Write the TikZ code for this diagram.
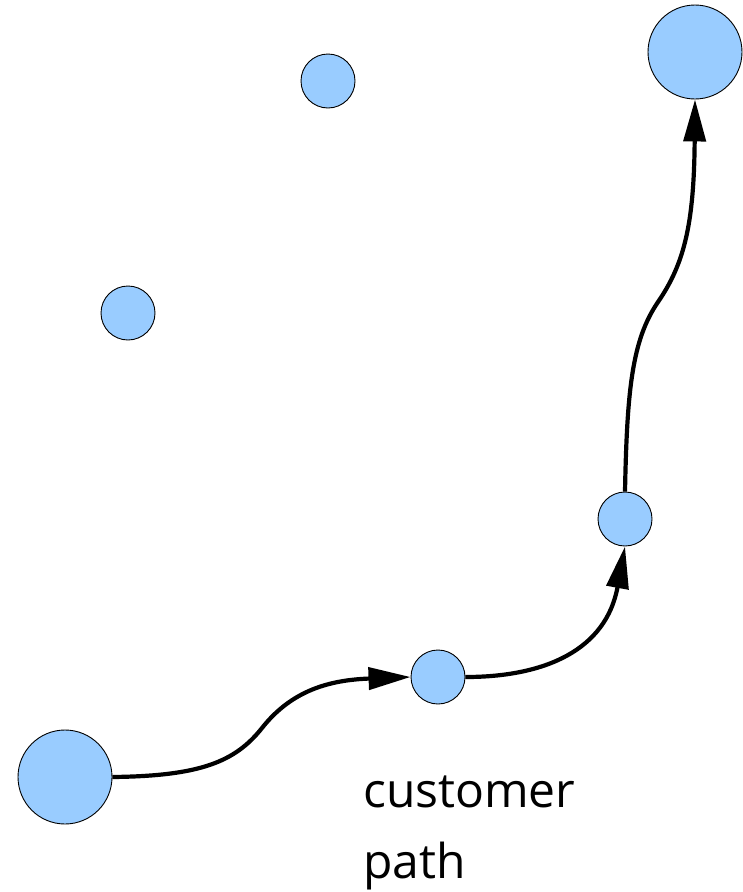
\documentclass[tikz,border=0pt]{standalone}
\usepackage{fontspec}
\setmainfont{Open Sans}
\usetikzlibrary{positioning, arrows.meta}
\definecolor{siteblue}{HTML}{99CCFF}

\begin{document}
\begin{tikzpicture}[x=1pt, y=-1pt,
	site/.style={circle, draw=black, line width=0.9pt, fill=siteblue, inner sep=0pt, minimum size=54pt},
	bigsite/.style={site, minimum size=94pt},
	walk/.style={line width=4.2pt, -{Triangle[length=42pt, width=22pt]}}]
		
		\useasboundingbox (0,0) rectangle (743,892);
		
		% Draw sites
		\node[bigsite] (start) at (65,777) {};
		\node[bigsite] (dest) at (695,52) {};
		\node[site] (hop1) at (438,677) {};
		\node[site] (hop2) at (625,519) {};
		\node[site] (idle1) at (328,81) {};
		\node[site] (idle2) at (128,313) {};
		
		% Draw the path
		\draw[walk] (start.east) .. controls (200,776) and (235,762) .. (262,728)
			.. controls (292,690) and (330,680) .. (hop1.west);
		\draw[walk] (hop1.east) .. controls (545,677) and (606,650) .. (hop2.south);
		\draw[walk] (hop2.north) .. controls (627,390) and (632,340) .. (658,302)
			.. controls (684,264) and (694,225) .. (dest.south);
		
		% Add label
		\node[anchor=base west, align=left, inner sep=0pt, font=\fontsize{48}{71}\selectfont] (lbl) at (363,878) {customer\\path};
		
	\end{tikzpicture}
\end{document}
